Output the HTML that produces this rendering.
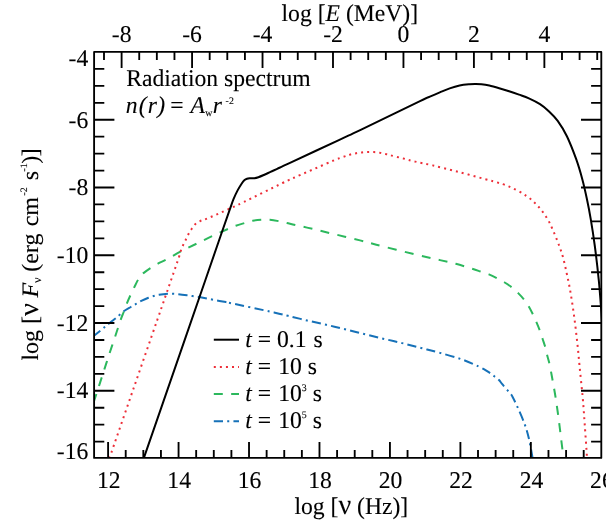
<!DOCTYPE html>
<html><head><meta charset="utf-8"><title>Radiation spectrum</title>
<style>
html,body{margin:0;padding:0;background:#fff;}
body{width:606px;height:521px;overflow:hidden;font-family:"Liberation Serif",serif;}
svg{display:block;position:absolute;left:0;top:0;will-change:transform;text-rendering:geometricPrecision;}
</style></head><body>
<svg width="606" height="521" viewBox="0 0 606 521">
<rect x="0" y="0" width="606" height="521" fill="#ffffff"/>
<defs><clipPath id="pc"><rect x="94.10" y="51.90" width="507.20" height="406.00"/></clipPath></defs>
<g clip-path="url(#pc)" fill="none" stroke-width="2" stroke-linejoin="round">
<path d="M93.20 336.40 C94.40 335.43 98.49 332.15 100.40 330.60 C102.31 329.05 103.17 328.33 104.65 327.10 C106.13 325.87 107.29 324.82 109.30 323.20 C111.31 321.58 114.97 318.80 116.70 317.40 C118.43 316.00 118.53 315.82 119.70 314.80 C120.87 313.78 121.85 312.60 123.70 311.30 C125.55 310.00 128.75 308.23 130.80 307.00 C132.85 305.77 134.25 304.92 136.00 303.90 C137.75 302.88 139.23 301.93 141.30 300.90 C143.37 299.87 146.33 298.52 148.40 297.70 C150.47 296.88 151.93 296.48 153.70 296.00 C155.47 295.52 156.65 295.17 159.00 294.80 C161.35 294.43 165.45 293.97 167.80 293.80 C170.15 293.63 171.33 293.73 173.10 293.80 C174.87 293.87 176.08 293.95 178.40 294.20 C180.72 294.45 184.70 294.98 187.00 295.30 C189.30 295.62 190.40 295.85 192.20 296.10 C194.00 296.35 195.37 296.42 197.80 296.80 C200.23 297.18 203.65 297.80 206.80 298.40 C209.95 299.00 213.52 299.78 216.70 300.40 C219.88 301.02 223.68 301.67 225.90 302.10 C228.12 302.53 221.99 301.28 230.00 303.00 C238.01 304.72 264.29 310.27 273.96 312.40 C283.63 314.53 282.48 314.45 288.00 315.80 C293.52 317.15 300.73 319.01 307.10 320.50 C313.47 321.99 319.88 323.28 326.20 324.75 C332.52 326.22 338.72 327.75 345.05 329.30 C351.38 330.85 357.84 332.49 364.20 334.06 C370.56 335.63 376.88 337.19 383.20 338.70 C389.52 340.21 395.80 341.55 402.10 343.10 C408.40 344.65 414.68 346.37 421.00 348.00 C427.32 349.63 433.23 351.02 440.00 352.90 C446.77 354.78 455.13 357.03 461.60 359.30 C468.07 361.57 474.48 364.48 478.80 366.50 C483.12 368.52 484.87 369.73 487.50 371.40 C490.13 373.07 492.68 375.07 494.60 376.50 C496.52 377.93 497.80 378.80 499.00 380.00 C500.20 381.20 500.37 381.97 501.80 383.70 C503.23 385.43 506.15 388.72 507.60 390.40 C509.05 392.08 509.68 392.75 510.50 393.80 C511.32 394.85 511.33 394.48 512.50 396.70 C513.67 398.92 515.50 402.60 517.50 407.10 C519.50 411.60 522.60 418.45 524.50 423.70 C526.40 428.95 527.58 433.05 528.90 438.60 C530.22 444.15 531.77 453.60 532.40 457.00 C533.03 460.40 532.65 458.67 532.70 459.00" stroke="#1671b8" stroke-dasharray="9.2 4.2 2.05 4.2" stroke-dashoffset="0.1"/>
<path d="M93.20 403.70 C94.18 400.68 97.22 391.40 99.10 385.60 C100.98 379.80 102.70 374.45 104.50 368.90 C106.30 363.35 108.07 357.87 109.90 352.30 C111.73 346.73 113.67 341.02 115.50 335.50 C117.33 329.98 119.53 323.12 120.90 319.20 C122.27 315.28 122.67 314.72 123.70 312.00 C124.73 309.28 125.98 305.67 127.10 302.90 C128.22 300.13 129.18 298.05 130.40 295.40 C131.62 292.75 133.12 289.63 134.40 287.00 C135.68 284.37 137.00 281.52 138.10 279.60 C139.20 277.68 140.05 276.62 141.00 275.50 C141.95 274.38 142.22 274.13 143.80 272.90 C145.38 271.67 148.08 269.68 150.50 268.10 C152.92 266.52 155.72 264.80 158.30 263.40 C160.88 262.00 162.17 261.73 166.00 259.70 C169.83 257.67 176.13 253.90 181.30 251.20 C186.47 248.50 191.82 246.03 197.00 243.50 C202.18 240.97 207.25 238.42 212.40 236.00 C217.55 233.58 224.00 230.72 227.90 229.00 C231.80 227.28 232.98 226.70 235.80 225.70 C238.62 224.70 241.98 223.82 244.80 223.00 C247.62 222.18 249.90 221.33 252.70 220.80 C255.50 220.27 258.73 219.97 261.60 219.80 C264.47 219.63 267.00 219.57 269.90 219.80 C272.80 220.03 276.17 220.67 279.00 221.20 C281.83 221.73 284.10 222.35 286.90 223.00 C289.70 223.65 291.50 224.12 295.80 225.10 C300.10 226.08 307.02 227.57 312.70 228.90 C318.38 230.23 322.02 231.18 329.90 233.10 C337.78 235.02 352.27 238.47 360.00 240.40 C367.73 242.33 367.53 242.47 376.30 244.70 C385.07 246.93 401.98 251.23 412.60 253.80 C423.22 256.37 432.80 258.43 440.00 260.10 C447.20 261.77 450.43 262.37 455.80 263.80 C461.17 265.23 468.03 267.40 472.20 268.70 C476.37 270.00 478.02 270.65 480.80 271.60 C483.58 272.55 486.22 273.30 488.90 274.40 C491.58 275.50 494.27 276.85 496.90 278.20 C499.53 279.55 502.20 280.97 504.70 282.50 C507.20 284.03 509.65 285.63 511.90 287.40 C514.15 289.17 516.18 291.08 518.20 293.10 C520.22 295.12 522.27 297.33 524.00 299.50 C525.73 301.67 527.17 303.72 528.60 306.10 C530.03 308.48 531.32 311.17 532.60 313.80 C533.88 316.43 535.10 319.12 536.30 321.90 C537.50 324.68 538.73 327.62 539.80 330.50 C540.87 333.38 541.78 336.42 542.70 339.20 C543.62 341.98 544.53 344.43 545.30 347.20 C546.07 349.97 546.58 352.92 547.30 355.80 C548.02 358.68 548.70 360.32 549.60 364.50 C550.50 368.68 551.70 375.40 552.70 380.90 C553.70 386.40 554.62 391.23 555.60 397.50 C556.58 403.77 557.67 411.50 558.60 418.50 C559.53 425.50 560.37 432.83 561.20 439.50 C562.03 446.17 563.20 455.33 563.60 458.50" stroke="#2cb85d" stroke-dasharray="9 8.37" stroke-dashoffset="-1.2"/>
<path d="M109.50 458.00 C113.53 446.33 125.74 411.00 133.70 388.00 C141.66 365.00 151.03 338.00 157.26 320.00 C163.49 302.00 167.48 290.50 171.10 280.00 C174.72 269.50 177.38 261.87 179.00 257.00 C180.62 252.13 180.12 252.78 180.80 250.80 C181.48 248.82 182.27 246.95 183.10 245.10 C183.93 243.25 184.90 241.53 185.80 239.70 C186.70 237.87 187.53 235.88 188.50 234.10 C189.47 232.32 190.48 230.63 191.60 229.00 C192.72 227.37 193.78 225.62 195.20 224.30 C196.62 222.98 198.35 221.97 200.10 221.10 C201.85 220.23 203.22 220.08 205.70 219.10 C208.18 218.12 211.37 216.78 215.00 215.20 C218.63 213.62 222.67 211.82 227.50 209.60 C232.33 207.38 234.82 206.33 244.00 201.90 C253.18 197.47 273.38 187.42 282.60 183.00 C291.82 178.58 293.67 177.90 299.30 175.40 C304.93 172.90 310.73 170.47 316.40 168.00 C322.07 165.53 328.58 162.53 333.30 160.60 C338.02 158.67 341.83 157.42 344.70 156.40 C347.57 155.38 348.57 155.03 350.50 154.50 C352.43 153.97 354.37 153.55 356.30 153.20 C358.23 152.85 360.17 152.58 362.10 152.40 C364.03 152.22 365.92 152.15 367.90 152.10 C369.88 152.05 372.02 152.00 374.00 152.10 C375.98 152.20 377.87 152.38 379.80 152.70 C381.73 153.02 383.62 153.52 385.60 154.00 C387.58 154.48 388.75 154.85 391.70 155.60 C394.65 156.35 399.38 157.50 403.30 158.50 C407.22 159.50 410.30 160.45 415.20 161.60 C420.10 162.75 425.75 163.75 432.70 165.40 C439.65 167.05 448.38 169.27 456.90 171.50 C465.42 173.73 476.18 176.70 483.80 178.80 C491.42 180.90 497.23 182.27 502.60 184.10 C507.97 185.93 511.97 187.78 516.00 189.80 C520.03 191.82 523.65 194.00 526.80 196.20 C529.95 198.40 532.43 200.62 534.90 203.00 C537.37 205.38 539.37 207.60 541.60 210.50 C543.83 213.40 546.28 216.82 548.30 220.40 C550.32 223.98 551.90 227.82 553.70 232.00 C555.50 236.18 557.53 241.23 559.10 245.50 C560.67 249.77 561.85 253.05 563.10 257.60 C564.35 262.15 565.55 268.03 566.60 272.80 C567.65 277.57 568.52 281.48 569.40 286.20 C570.28 290.92 571.12 296.12 571.90 301.10 C572.68 306.08 573.40 310.90 574.10 316.10 C574.80 321.30 575.47 326.90 576.10 332.30 C576.73 337.70 577.35 343.12 577.90 348.50 C578.45 353.88 578.87 359.10 579.40 364.60 C579.93 370.10 580.50 375.43 581.10 381.50 C581.70 387.57 582.38 393.67 583.00 401.00 C583.62 408.33 584.15 416.32 584.80 425.50 C585.45 434.68 586.52 450.52 586.90 456.10 C587.28 461.68 587.07 458.52 587.10 459.00" stroke="#ed2e38" stroke-dasharray="2 4.07" stroke-dashoffset="0.3"/>
<path d="M143.80 458.20 C148.93 443.35 164.33 398.80 174.60 369.10 C184.87 339.40 197.57 302.68 205.40 280.00 C213.23 257.32 217.52 244.80 221.60 233.00 C225.68 221.20 227.92 214.83 229.90 209.20 C231.88 203.57 232.22 202.33 233.50 199.20 C234.78 196.07 236.25 192.98 237.60 190.40 C238.95 187.82 240.48 185.38 241.60 183.70 C242.72 182.02 243.40 181.13 244.30 180.30 C245.20 179.47 246.00 179.03 247.00 178.70 C248.00 178.37 249.07 178.38 250.30 178.30 C251.53 178.22 253.05 178.38 254.40 178.20 C255.75 178.02 256.83 177.73 258.40 177.20 C259.97 176.67 261.78 175.88 263.80 175.00 C265.82 174.12 268.27 172.93 270.50 171.90 C272.73 170.87 273.95 170.30 277.20 168.80 C280.45 167.30 279.63 167.73 290.00 162.90 C300.37 158.07 327.62 145.30 339.40 139.80 C351.18 134.30 347.27 136.33 360.70 129.90 C374.13 123.47 408.47 106.73 420.00 101.20 C431.53 95.67 426.60 98.17 429.90 96.70 C433.20 95.23 436.50 93.78 439.80 92.40 C443.10 91.02 446.40 89.53 449.70 88.40 C453.00 87.27 456.30 86.28 459.60 85.60 C462.90 84.92 466.87 84.56 469.50 84.30 C472.13 84.04 473.42 84.06 475.40 84.06 C477.38 84.06 479.08 84.04 481.40 84.30 C483.72 84.56 486.33 84.95 489.30 85.60 C492.27 86.25 495.90 87.27 499.20 88.20 C502.50 89.13 505.80 90.13 509.10 91.20 C512.40 92.27 515.70 93.42 519.00 94.60 C522.30 95.78 525.40 96.72 528.90 98.30 C532.40 99.88 536.73 102.00 540.00 104.10 C543.27 106.20 545.55 108.12 548.50 110.90 C551.45 113.68 554.63 116.58 557.70 120.80 C560.77 125.02 563.82 129.80 566.90 136.20 C569.98 142.60 573.63 152.03 576.20 159.20 C578.77 166.37 580.53 172.65 582.30 179.20 C584.07 185.75 585.40 191.90 586.80 198.50 C588.20 205.10 589.38 210.97 590.70 218.80 C592.03 226.63 593.40 235.23 594.75 245.50 C596.10 255.77 597.69 269.23 598.80 280.40 C599.91 291.57 600.53 300.90 601.40 312.50 C602.27 324.10 603.57 343.75 604.00 350.00" stroke="#000000"/>
</g>
<path d="M108.10 457.90 V441.90 M125.71 457.90 V449.90 M143.33 457.90 V449.90 M160.94 457.90 V449.90 M178.56 457.90 V441.90 M196.17 457.90 V449.90 M213.79 457.90 V449.90 M231.40 457.90 V449.90 M249.02 457.90 V441.90 M266.63 457.90 V449.90 M284.25 457.90 V449.90 M301.87 457.90 V449.90 M319.48 457.90 V441.90 M337.09 457.90 V449.90 M354.71 457.90 V449.90 M372.32 457.90 V449.90 M389.94 457.90 V441.90 M407.55 457.90 V449.90 M425.17 457.90 V449.90 M442.78 457.90 V449.90 M460.40 457.90 V441.90 M478.01 457.90 V449.90 M495.63 457.90 V449.90 M513.25 457.90 V449.90 M530.86 457.90 V441.90 M548.47 457.90 V449.90 M566.09 457.90 V449.90 M583.70 457.90 V449.90 M104.00 51.90 V59.90 M121.61 51.90 V67.90 M139.23 51.90 V59.90 M156.84 51.90 V59.90 M174.46 51.90 V59.90 M192.07 51.90 V67.90 M209.69 51.90 V59.90 M227.30 51.90 V59.90 M244.92 51.90 V59.90 M262.53 51.90 V67.90 M280.15 51.90 V59.90 M297.76 51.90 V59.90 M315.38 51.90 V59.90 M332.99 51.90 V67.90 M350.61 51.90 V59.90 M368.22 51.90 V59.90 M385.84 51.90 V59.90 M403.45 51.90 V67.90 M421.07 51.90 V59.90 M438.68 51.90 V59.90 M456.30 51.90 V59.90 M473.91 51.90 V67.90 M491.53 51.90 V59.90 M509.14 51.90 V59.90 M526.76 51.90 V59.90 M544.37 51.90 V67.90 M561.99 51.90 V59.90 M579.60 51.90 V59.90 M597.22 51.90 V59.90 M94.10 68.92 H104.30 M601.30 68.92 H591.10 M94.10 85.86 H104.30 M601.30 85.86 H591.10 M94.10 102.80 H104.30 M601.30 102.80 H591.10 M94.10 119.74 H114.40 M601.30 119.74 H581.00 M94.10 136.68 H104.30 M601.30 136.68 H591.10 M94.10 153.62 H104.30 M601.30 153.62 H591.10 M94.10 170.56 H104.30 M601.30 170.56 H591.10 M94.10 187.50 H114.40 M601.30 187.50 H581.00 M94.10 204.44 H104.30 M601.30 204.44 H591.10 M94.10 221.38 H104.30 M601.30 221.38 H591.10 M94.10 238.32 H104.30 M601.30 238.32 H591.10 M94.10 255.26 H114.40 M601.30 255.26 H581.00 M94.10 272.20 H104.30 M601.30 272.20 H591.10 M94.10 289.14 H104.30 M601.30 289.14 H591.10 M94.10 306.08 H104.30 M601.30 306.08 H591.10 M94.10 323.02 H114.40 M601.30 323.02 H581.00 M94.10 339.96 H104.30 M601.30 339.96 H591.10 M94.10 356.90 H104.30 M601.30 356.90 H591.10 M94.10 373.84 H104.30 M601.30 373.84 H591.10 M94.10 390.78 H114.40 M601.30 390.78 H581.00 M94.10 407.72 H104.30 M601.30 407.72 H591.10 M94.10 424.66 H104.30 M601.30 424.66 H591.10 M94.10 441.60 H104.30 M601.30 441.60 H591.10" stroke="#000" stroke-width="1.85" fill="none"/>
<rect x="94.10" y="51.90" width="507.20" height="406.00" fill="none" stroke="#000" stroke-width="1.85" stroke-linejoin="round"/>
<g font-family="'Liberation Serif', serif" font-size="24.00px" fill="#000" stroke="#000" stroke-width="0.1">
<text transform="translate(108.70 488.00) scale(0.9850 1.0000)" text-anchor="middle">12</text>
<text transform="translate(179.16 488.00) scale(0.9850 1.0000)" text-anchor="middle">14</text>
<text transform="translate(249.62 488.00) scale(0.9850 1.0000)" text-anchor="middle">16</text>
<text transform="translate(320.08 488.00) scale(0.9850 1.0000)" text-anchor="middle">18</text>
<text transform="translate(390.54 488.00) scale(0.9850 1.0000)" text-anchor="middle">20</text>
<text transform="translate(461.00 488.00) scale(0.9850 1.0000)" text-anchor="middle">22</text>
<text transform="translate(531.46 488.00) scale(0.9850 1.0000)" text-anchor="middle">24</text>
<text transform="translate(601.92 488.00) scale(0.9850 1.0000)" text-anchor="middle">26</text>
<text transform="translate(121.61 42.10) scale(0.9850 1.0000)" text-anchor="middle">-8</text>
<text transform="translate(192.07 42.10) scale(0.9850 1.0000)" text-anchor="middle">-6</text>
<text transform="translate(262.53 42.10) scale(0.9850 1.0000)" text-anchor="middle">-4</text>
<text transform="translate(332.99 42.10) scale(0.9850 1.0000)" text-anchor="middle">-2</text>
<text transform="translate(403.45 42.10) scale(0.9850 1.0000)" text-anchor="middle">0</text>
<text transform="translate(473.91 42.10) scale(0.9850 1.0000)" text-anchor="middle">2</text>
<text transform="translate(544.37 42.10) scale(0.9850 1.0000)" text-anchor="middle">4</text>
<text transform="translate(88.30 65.70) scale(0.9850 1.0000)" text-anchor="end">-4</text>
<text transform="translate(88.30 127.60) scale(0.9850 1.0000)" text-anchor="end">-6</text>
<text transform="translate(88.30 195.20) scale(0.9850 1.0000)" text-anchor="end">-8</text>
<text transform="translate(88.30 262.80) scale(0.9850 1.0000)" text-anchor="end">-10</text>
<text transform="translate(88.30 330.50) scale(0.9850 1.0000)" text-anchor="end">-12</text>
<text transform="translate(88.30 398.20) scale(0.9850 1.0000)" text-anchor="end">-14</text>
<text transform="translate(88.30 458.60) scale(0.9850 1.0000)" text-anchor="end">-16</text>
<text transform="translate(351.30 513.50) scale(0.9850 1.0000)" text-anchor="middle">log [<tspan font-size="28.6px">ν</tspan> (Hz)]</text>
<text transform="translate(349.80 21.40) scale(0.9850 1.0000)" text-anchor="middle">log [<tspan font-style="italic">E</tspan> (MeV)]</text>
<text transform="translate(38.3 360.6) scale(0.9850 1.0000) rotate(-90)">log [<tspan font-size="28.6px">ν</tspan> <tspan font-style="italic" dx="-0.6">F</tspan><tspan font-size="12.4px" dy="3" dx="0">ν</tspan><tspan dy="-3" dx="-0.4"> (erg</tspan><tspan dx="1.2"> cm</tspan><tspan font-size="10.0px" dy="-11" dx="1.5">-2</tspan><tspan dy="11" dx="0.8"> s</tspan><tspan font-size="10.0px" dy="-11" dx="-0.5">-1</tspan><tspan dy="11" dx="-0.5">)</tspan><tspan dx="-0.5">]</tspan></text>
<text transform="translate(126.20 86.40) scale(0.9850 1.0000)" text-anchor="start">Radiation spectrum</text>
<text transform="translate(125.80 112.70) scale(0.9850 1.0000)" text-anchor="start"><tspan font-style="italic">n<tspan dx="1.2">(</tspan><tspan dx="1.0">r</tspan><tspan dx="0.3">)</tspan></tspan></text>
<text transform="translate(170.20 112.70) scale(0.9850 1.0000)" text-anchor="start">=</text>
<text transform="translate(190.40 112.70) scale(0.9850 1.0000)" text-anchor="start"><tspan font-style="italic">A</tspan></text>
<text transform="translate(205.30 115.50) scale(0.9850 1.0000)" text-anchor="start"><tspan font-size="10.0px">w</tspan></text>
<text transform="translate(212.80 112.70) scale(0.9850 1.0000)" text-anchor="start"><tspan font-style="italic">r</tspan></text>
<text transform="translate(225.60 103.50) scale(0.9850 1.0000)" text-anchor="start"><tspan font-size="10.0px">-2</tspan></text>
<text transform="translate(245.20 346.60) scale(0.9850 1.0000)" text-anchor="start"><tspan font-style="italic">t</tspan> = <tspan dx="0.0">0.1</tspan><tspan dx="1.2"> s</tspan></text>
<text transform="translate(245.20 373.50) scale(0.9850 1.0000)" text-anchor="start"><tspan font-style="italic">t</tspan> = <tspan dx="1.3">10</tspan><tspan dx="0.0"> s</tspan></text>
<text transform="translate(245.20 400.60) scale(0.9850 1.0000)" text-anchor="start"><tspan font-style="italic">t</tspan> = <tspan dx="1.3">10</tspan><tspan font-size="10.0px" dy="-10">3</tspan><tspan dy="10"> s</tspan></text>
<text transform="translate(245.20 427.60) scale(0.9850 1.0000)" text-anchor="start"><tspan font-style="italic">t</tspan> = <tspan dx="1.3">10</tspan><tspan font-size="10.0px" dy="-10">5</tspan><tspan dy="10"> s</tspan></text>
</g>
<path d="M213.8 339.70 H239" stroke="#000000" stroke-width="2" fill="none"/>
<path d="M213.8 366.90 H239" stroke="#ed2e38" stroke-width="2" fill="none" stroke-dasharray="2 4.07"/>
<path d="M213.8 394.00 H239" stroke="#2cb85d" stroke-width="2" fill="none" stroke-dasharray="9 8.37"/>
<path d="M213.8 421.30 H239" stroke="#1671b8" stroke-width="2" fill="none" stroke-dasharray="9.2 4.2 2.05 4.2"/>
</svg>
</body></html>
